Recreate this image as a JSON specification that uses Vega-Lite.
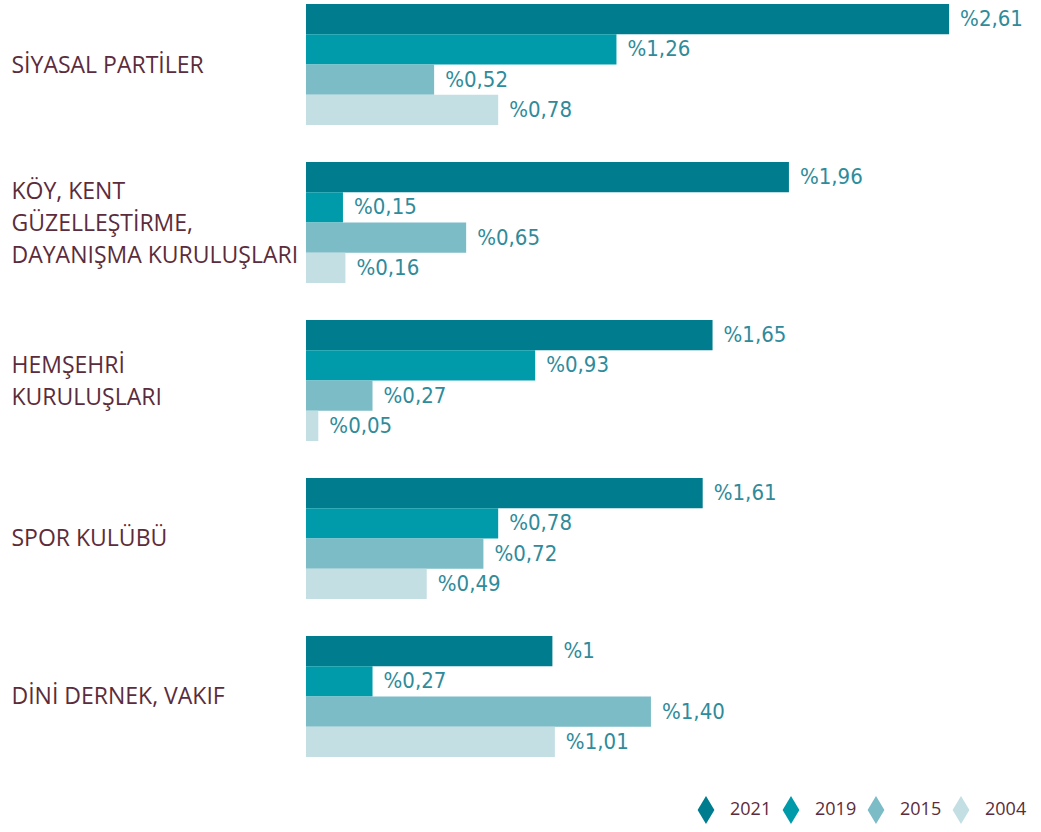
{
  "$schema": "https://vega.github.io/schema/vega-lite/v6.json",
  "width": 735,
  "height": 753,
  "autosize": {"type": "none"},
  "padding": {"left": 306, "top": 4, "right": 0, "bottom": 75},
  "background": "white",
  "config": {"view": {"stroke": null}},
  "data": {
    "values": [
      {"cat": "SİYASAL PARTİLER", "year": "2021", "v": 2.61, "label": "%2,61"},
      {"cat": "SİYASAL PARTİLER", "year": "2019", "v": 1.26, "label": "%1,26"},
      {"cat": "SİYASAL PARTİLER", "year": "2015", "v": 0.52, "label": "%0,52"},
      {"cat": "SİYASAL PARTİLER", "year": "2004", "v": 0.78, "label": "%0,78"},
      {"cat": "KÖY, KENT|GÜZELLEŞTİRME,|DAYANIŞMA KURULUŞLARI", "year": "2021", "v": 1.96, "label": "%1,96"},
      {"cat": "KÖY, KENT|GÜZELLEŞTİRME,|DAYANIŞMA KURULUŞLARI", "year": "2019", "v": 0.15, "label": "%0,15"},
      {"cat": "KÖY, KENT|GÜZELLEŞTİRME,|DAYANIŞMA KURULUŞLARI", "year": "2015", "v": 0.65, "label": "%0,65"},
      {"cat": "KÖY, KENT|GÜZELLEŞTİRME,|DAYANIŞMA KURULUŞLARI", "year": "2004", "v": 0.16, "label": "%0,16"},
      {"cat": "HEMŞEHRİ|KURULUŞLARI", "year": "2021", "v": 1.65, "label": "%1,65"},
      {"cat": "HEMŞEHRİ|KURULUŞLARI", "year": "2019", "v": 0.93, "label": "%0,93"},
      {"cat": "HEMŞEHRİ|KURULUŞLARI", "year": "2015", "v": 0.27, "label": "%0,27"},
      {"cat": "HEMŞEHRİ|KURULUŞLARI", "year": "2004", "v": 0.05, "label": "%0,05"},
      {"cat": "SPOR KULÜBÜ", "year": "2021", "v": 1.61, "label": "%1,61"},
      {"cat": "SPOR KULÜBÜ", "year": "2019", "v": 0.78, "label": "%0,78"},
      {"cat": "SPOR KULÜBÜ", "year": "2015", "v": 0.72, "label": "%0,72"},
      {"cat": "SPOR KULÜBÜ", "year": "2004", "v": 0.49, "label": "%0,49"},
      {"cat": "DİNİ DERNEK, VAKIF", "year": "2021", "v": 1.0, "label": "%1"},
      {"cat": "DİNİ DERNEK, VAKIF", "year": "2019", "v": 0.27, "label": "%0,27"},
      {"cat": "DİNİ DERNEK, VAKIF", "year": "2015", "v": 1.40, "label": "%1,40"},
      {"cat": "DİNİ DERNEK, VAKIF", "year": "2004", "v": 1.01, "label": "%1,01"}
    ]
  },
  "encoding": {
    "y": {
      "field": "cat",
      "type": "nominal",
      "sort": ["SİYASAL PARTİLER", "KÖY, KENT|GÜZELLEŞTİRME,|DAYANIŞMA KURULUŞLARI", "HEMŞEHRİ|KURULUŞLARI", "SPOR KULÜBÜ", "DİNİ DERNEK, VAKIF"],
      "scale": {"paddingInner": 0.234, "paddingOuter": 0},
      "axis": {
        "title": null,
        "domain": false,
        "ticks": false,
        "tickSize": 0,
        "labelAlign": "left",
        "labelBaseline": "middle",
        "labelPadding": 295,
        "labelFontSize": 23,
        "labelFont": "Open Sans",
        "labelFontWeight": 500,
        "labelColor": "#5b2c3b",
        "labelLineHeight": 32,
        "labelLimit": 300,
        "labelOffset": {
          "condition": [
            {"test": "indexof(datum.value, 'KÖY') >= 0", "value": -31},
            {"test": "indexof(datum.value, 'HEMŞEHRİ') >= 0", "value": -15}
          ],
          "value": 1
        },
        "labelExpr": "split(datum.label, '|')"
      }
    },
    "yOffset": {
      "field": "year",
      "type": "nominal",
      "sort": ["2021", "2019", "2015", "2004"],
      "scale": {"paddingInner": 0, "paddingOuter": 0}
    },
    "x": {
      "field": "v",
      "type": "quantitative",
      "scale": {"domain": [0, 2.983], "nice": false},
      "axis": null
    }
  },
  "layer": [
    {
      "mark": {"type": "bar"},
      "encoding": {
        "color": {
          "field": "year",
          "type": "nominal",
          "sort": ["2021", "2019", "2015", "2004"],
          "scale": {"domain": ["2021", "2019", "2015", "2004"], "range": ["#007c8f", "#009bab", "#7bbcc7", "#c3dfe4"]},
          "legend": {
            "orient": "none",
            "legendX": 386,
            "legendY": 792,
            "direction": "horizontal",
            "title": null,
            "symbolType": "M0,-1L0.6,0L0,1L-0.6,0Z",
            "symbolSize": 784,
            "symbolStrokeWidth": 0,
            "symbolOpacity": 1,
            "labelFontSize": 18,
            "labelFont": "Open Sans",
            "labelFontWeight": 500,
            "labelColor": "#5b2c3b",
            "labelOffset": 10,
            "columnPadding": 5
          }
        }
      }
    },
    {
      "mark": {"type": "text", "align": "left", "baseline": "middle", "dx": 11, "font": "DejaVu Sans Condensed", "fontSize": 22, "color": "#2f8b9b"},
      "encoding": {"text": {"field": "label"}}
    }
  ]
}
